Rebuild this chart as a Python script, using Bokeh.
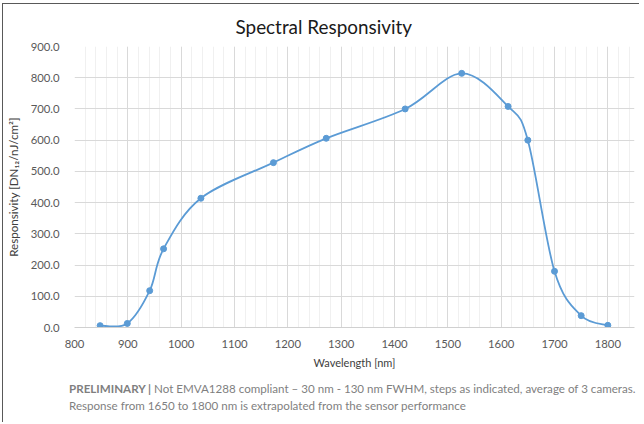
import numpy as np
from bokeh.plotting import figure
from bokeh.layouts import column
from bokeh.models import Range1d, FixedTicker, NumeralTickFormatter, Title, Div
from bokeh.embed import file_html
from bokeh.resources import INLINE

# ---- data ----
wavelength = [848, 899, 941, 967, 1037, 1173, 1272, 1420, 1526, 1613, 1650, 1700, 1750, 1800]
responsivity = [6, 13, 118, 252, 414, 528, 606, 700, 814, 708, 600, 180, 38, 7]
x_ticks = [800, 900, 1000, 1100, 1200, 1300, 1400, 1500, 1600, 1700, 1800]
x_minor = list(range(800, 1851, 20))
y_ticks = [0, 100, 200, 300, 400, 500, 600, 700, 800, 900]

title_text = "Spectral Responsivity"
x_label = "Wavelength [nm]"
y_label = "Responsivity [DN\u2081\u2082/nJ/cm\u00b2]"
note_bold = "PRELIMINARY |"
note_line1 = "Not EMVA1288 compliant \u2013 30 nm - 130 nm FWHM, steps as indicated, average of 3 cameras."
note_line2 = "Response from 1650 to 1800 nm is extrapolated from the sensor performance"

FONT = "Lato"
BLUE = "#5b9bd5"

X0, X1 = 800, 1850
Y0, Y1 = 0, 900

p = figure(width=636, height=368, output_backend="svg", toolbar_location=None,
           x_range=Range1d(X0, X1), y_range=Range1d(Y0, Y1),
           min_border_left=71, min_border_right=5, min_border_top=41, min_border_bottom=45)
p.outline_line_color = None
p.background_fill_color = "white"
p.border_fill_color = "white"

t = Title(text=title_text, align="left", offset=161, standoff=17,
          text_font=FONT, text_font_size="18.9px", text_font_style="normal",
          text_color="#1a1a1a")
p.add_layout(t, "above")

# axes
p.xaxis.ticker = FixedTicker(ticks=x_ticks, minor_ticks=x_minor)
p.yaxis.ticker = FixedTicker(ticks=y_ticks)
p.yaxis.formatter = NumeralTickFormatter(format="0.0")
for ax in (p.xaxis[0], p.yaxis[0]):
    ax.major_tick_line_color = None
    ax.minor_tick_line_color = None
    ax.major_label_text_font = FONT
    ax.major_label_text_font_size = "11.3px"
    ax.major_label_text_color = "#595959"
    ax.axis_label_text_font = FONT
    ax.axis_label_text_font_size = "11px"
    ax.axis_label_text_font_style = "normal"
    ax.axis_label_text_color = "#404040"
p.yaxis.axis_label_text_font_size = "11.6px"
p.xaxis.axis_line_color = "#d0d0d0"
p.yaxis.axis_line_color = None
p.xaxis.axis_label = x_label
p.yaxis.axis_label = y_label
p.xaxis.major_label_standoff = 6
p.xaxis.axis_label_standoff = 5
p.yaxis.major_label_standoff = 9
p.yaxis.axis_label_standoff = 8

# grid
p.xgrid.grid_line_color = "#d9d9d9"
p.ygrid.grid_line_color = "#d9d9d9"
p.xgrid.minor_grid_line_color = "#f0f0f0"

# smoothed line (Catmull-Rom style bezier segments, like Excel smoothing)
xa = np.array(wavelength, dtype=float)
ya = np.array(responsivity, dtype=float)
xp = np.concatenate([[xa[0]], xa, [xa[-1]]])
yp = np.concatenate([[ya[0]], ya, [ya[-1]]])
n = len(xa)
cx0 = xa[:-1] + (xp[2:n + 1] - xp[0:n - 1]) / 6.0
cy0 = ya[:-1] + (yp[2:n + 1] - yp[0:n - 1]) / 6.0
cx1 = xa[1:] - (xp[3:n + 2] - xp[1:n]) / 6.0
cy1 = ya[1:] - (yp[3:n + 2] - yp[1:n]) / 6.0
p.bezier(x0=xa[:-1], y0=ya[:-1], x1=xa[1:], y1=ya[1:],
         cx0=cx0, cy0=cy0, cx1=cx1, cy1=cy1, line_color=BLUE, line_width=1.8)
p.scatter(wavelength, responsivity, size=6, color=BLUE)

note = Div(
    text=(f'<div style="font-family: Lato; font-size: 11.6px; color: #7f7f7f; '
          f'line-height: 17px; padding: 8px 0 0 66px; white-space: nowrap;">'
          f'<b>{note_bold}</b> {note_line1}<br>{note_line2}</div>'),
    width=636, height=50, margin=(0, 0, 0, 0))

layout = column(p, note, spacing=0, margin=(3, 0, 0, 2),
                styles={"border-top": "1px solid #595959", "border-left": "1px solid #595959"})
open("out.html", "w").write(file_html(layout, INLINE))
